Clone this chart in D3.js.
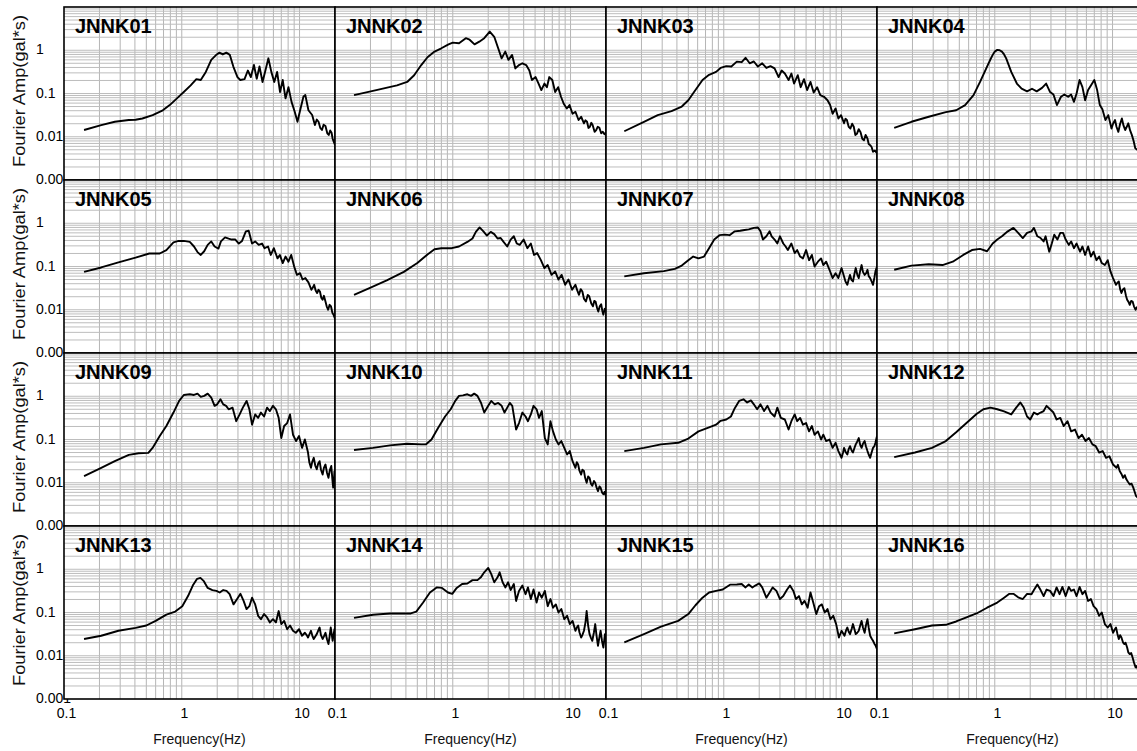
<!DOCTYPE html>
<html>
<head>
<meta charset="utf-8">
<script src="https://cdn.jsdelivr.net/npm/d3@7"></script>
<style>
  body { margin: 0; background: #fff; }
  svg { display: block; }
</style>
</head>
<body>
<svg id="chart" width="1137" height="751"></svg>
<script>
// Station names, one panel each (4 x 4 grid, row by row)
const stations = ["JNNK01","JNNK02","JNNK03","JNNK04","JNNK05","JNNK06","JNNK07","JNNK08",
                  "JNNK09","JNNK10","JNNK11","JNNK12","JNNK13","JNNK14","JNNK15","JNNK16"];

// Fourier amplitude spectra: [frequency (Hz), amplitude (gal*s)]
const JNNK01 = [[0.148,0.0143],[0.207,0.0186],[0.27,0.0222],[0.355,0.0244],[0.405,0.0248],[0.463,0.0264],[0.566,0.0316],[0.69,0.0408],[0.79,0.054],[0.91,0.077],[1.04,0.108],[1.19,0.154],[1.33,0.215],[1.45,0.205],[1.6,0.316],[1.78,0.6],[1.98,0.8],[2.09,0.88],[2.23,0.8],[2.39,0.88],[2.56,0.78],[2.74,0.42],[2.97,0.24],[3.14,0.205],[3.41,0.215],[3.64,0.34],[3.86,0.24],[4.1,0.455],[4.33,0.22],[4.57,0.42],[4.85,0.185],[5.13,0.34],[5.44,0.65],[5.76,0.316],[6.1,0.185],[6.45,0.316],[6.83,0.108],[7.2,0.205],[7.6,0.077],[8.05,0.14],[8.55,0.064],[9.1,0.0378],[9.6,0.0222],[10.2,0.045],[10.8,0.085],[11.2,0.092],[11.9,0.041],[12.8,0.0318],[13.5,0.0187],[14.0,0.025],[14.5,0.0222],[15.0,0.016],[15.5,0.0143],[16.0,0.019],[16.6,0.0177],[17.2,0.012],[17.7,0.011],[18.2,0.014],[18.7,0.0124],[19.1,0.009],[19.5,0.0077],[20,0.0065]];
const JNNK02 = [[0.145,0.092],[0.224,0.12],[0.336,0.154],[0.41,0.185],[0.47,0.265],[0.54,0.455],[0.61,0.69],[0.70,0.93],[0.80,1.11],[0.92,1.37],[1.0,1.5],[1.13,1.45],[1.29,1.9],[1.39,1.75],[1.53,1.37],[1.68,1.58],[1.85,1.9],[2.06,2.7],[2.25,2.05],[2.43,1.11],[2.6,0.65],[2.79,0.93],[2.97,0.6],[3.19,0.78],[3.4,0.38],[3.65,0.455],[3.9,0.5],[4.2,0.455],[4.47,0.34],[4.7,0.205],[5.05,0.24],[5.35,0.17],[5.65,0.12],[6.0,0.17],[6.3,0.14],[6.6,0.24],[7.0,0.205],[7.4,0.108],[7.85,0.14],[8.3,0.084],[8.75,0.058],[9.3,0.045],[9.8,0.054],[10.4,0.034],[11.0,0.0378],[11.7,0.0244],[12.3,0.029],[13.0,0.0205],[13.4,0.024],[13.8,0.0222],[14.2,0.016],[14.6,0.017],[15.0,0.021],[15.4,0.0186],[16.0,0.013],[16.5,0.0143],[17.0,0.017],[17.6,0.016],[18.2,0.012],[18.8,0.013],[19.4,0.0115],[20,0.0123]];
const JNNK03 = [[0.143,0.0134],[0.21,0.0222],[0.275,0.0316],[0.36,0.039],[0.44,0.05],[0.50,0.07],[0.575,0.12],[0.66,0.205],[0.75,0.27],[0.86,0.316],[0.94,0.39],[1.05,0.43],[1.16,0.42],[1.29,0.545],[1.42,0.53],[1.53,0.67],[1.66,0.5],[1.8,0.55],[1.95,0.42],[2.12,0.5],[2.3,0.39],[2.49,0.43],[2.7,0.38],[2.92,0.24],[3.1,0.34],[3.3,0.29],[3.55,0.205],[3.75,0.29],[3.95,0.17],[4.25,0.265],[4.5,0.14],[4.8,0.215],[5.1,0.12],[5.45,0.185],[5.8,0.105],[6.2,0.14],[6.6,0.092],[7.1,0.084],[7.6,0.07],[8.0,0.054],[8.4,0.034],[8.9,0.045],[9.4,0.0264],[9.9,0.0316],[10.5,0.0205],[10.8,0.026],[11.1,0.0244],[11.5,0.017],[11.9,0.0155],[12.3,0.02],[12.7,0.017],[13.1,0.011],[13.5,0.0117],[14.0,0.015],[14.5,0.0127],[15.0,0.009],[15.5,0.0083],[16.0,0.011],[16.6,0.0091],[17.0,0.0068],[17.5,0.0064],[18.0,0.0058],[18.5,0.0045],[19.2,0.0048],[20,0.0042]];
const JNNK04 = [[0.14,0.016],[0.196,0.0222],[0.275,0.029],[0.384,0.037],[0.47,0.041],[0.56,0.054],[0.66,0.092],[0.75,0.185],[0.86,0.42],[0.92,0.62],[0.96,0.78],[1.0,0.93],[1.05,1.02],[1.1,1.0],[1.15,0.93],[1.2,0.8],[1.25,0.65],[1.38,0.316],[1.54,0.17],[1.69,0.129],[1.88,0.112],[2.07,0.129],[2.27,0.112],[2.52,0.135],[2.73,0.17],[2.95,0.108],[3.15,0.095],[3.37,0.054],[3.65,0.084],[3.9,0.095],[4.2,0.084],[4.45,0.095],[4.7,0.064],[4.95,0.1],[5.25,0.205],[5.55,0.14],[5.85,0.07],[6.2,0.12],[6.55,0.154],[7.0,0.205],[7.4,0.12],[7.8,0.054],[8.2,0.043],[8.7,0.0244],[9.2,0.0316],[9.8,0.0155],[10.1,0.02],[10.5,0.0244],[10.8,0.017],[11.2,0.013],[11.6,0.02],[12.0,0.0264],[12.4,0.018],[12.8,0.0143],[13.2,0.017],[13.6,0.0205],[14.1,0.014],[14.6,0.0109],[15.1,0.008],[15.6,0.0054],[16.5,0.0048]];
const JNNK05 = [[0.148,0.075],[0.207,0.095],[0.29,0.125],[0.405,0.16],[0.53,0.2],[0.65,0.2],[0.74,0.24],[0.85,0.36],[0.94,0.39],[1.04,0.39],[1.17,0.37],[1.27,0.29],[1.36,0.215],[1.45,0.185],[1.55,0.225],[1.66,0.316],[1.78,0.38],[1.9,0.29],[2.05,0.26],[2.15,0.38],[2.33,0.47],[2.5,0.44],[2.65,0.42],[2.85,0.42],[3.05,0.34],[3.25,0.39],[3.5,0.65],[3.7,0.67],[3.95,0.34],[4.2,0.38],[4.5,0.316],[4.8,0.34],[5.05,0.265],[5.4,0.29],[5.7,0.185],[6.05,0.265],[6.5,0.154],[6.8,0.185],[7.2,0.12],[7.6,0.17],[8.05,0.129],[8.5,0.185],[9.0,0.1],[9.5,0.064],[10.1,0.07],[10.6,0.05],[11.2,0.054],[11.9,0.043],[12.6,0.029],[13.0,0.033],[13.3,0.0378],[13.7,0.028],[14.1,0.0244],[14.5,0.029],[14.9,0.0264],[15.3,0.019],[15.7,0.017],[16.1,0.021],[16.6,0.0155],[17.0,0.012],[17.5,0.01],[18.0,0.013],[18.5,0.0119],[19.0,0.0085],[19.5,0.0075],[20,0.0062]];
const JNNK06 = [[0.145,0.0222],[0.196,0.0316],[0.275,0.048],[0.384,0.075],[0.50,0.12],[0.61,0.19],[0.70,0.25],[0.80,0.265],[0.98,0.265],[1.13,0.29],[1.33,0.37],[1.47,0.445],[1.57,0.63],[1.69,0.8],[1.82,0.65],[1.95,0.52],[2.1,0.63],[2.25,0.56],[2.4,0.445],[2.55,0.455],[2.7,0.37],[2.9,0.29],[3.1,0.42],[3.3,0.5],[3.5,0.34],[3.7,0.316],[4.0,0.42],[4.3,0.265],[4.6,0.34],[4.9,0.185],[5.2,0.205],[5.6,0.14],[6.0,0.092],[6.4,0.108],[6.9,0.064],[7.4,0.077],[7.9,0.05],[8.4,0.064],[9.0,0.0378],[9.6,0.05],[10.3,0.029],[11.0,0.0378],[11.4,0.028],[11.8,0.0222],[12.2,0.03],[12.6,0.0264],[13.0,0.018],[13.5,0.0155],[14.0,0.022],[14.4,0.0205],[15.0,0.014],[15.5,0.012],[15.9,0.016],[16.3,0.0155],[16.8,0.011],[17.2,0.0091],[17.7,0.012],[18.2,0.0134],[18.6,0.0095],[19.0,0.0077],[19.5,0.0105],[20,0.01]];
const JNNK07 = [[0.143,0.059],[0.21,0.07],[0.31,0.078],[0.384,0.088],[0.44,0.105],[0.50,0.14],[0.55,0.17],[0.61,0.154],[0.68,0.17],[0.75,0.265],[0.83,0.42],[0.92,0.53],[1.02,0.545],[1.12,0.53],[1.24,0.65],[1.38,0.67],[1.5,0.7],[1.63,0.72],[1.8,0.78],[1.95,0.8],[2.05,0.65],[2.15,0.42],[2.3,0.5],[2.45,0.65],[2.55,0.5],[2.7,0.42],[2.85,0.34],[3.0,0.5],[3.2,0.34],[3.35,0.29],[3.5,0.24],[3.75,0.34],[4.0,0.205],[4.2,0.24],[4.45,0.17],[4.7,0.154],[5.0,0.24],[5.3,0.14],[5.6,0.185],[5.9,0.1],[6.3,0.129],[6.7,0.154],[7.0,0.108],[7.4,0.129],[7.9,0.084],[8.4,0.054],[8.9,0.07],[9.4,0.054],[10.0,0.092],[10.5,0.059],[10.8,0.045],[11.2,0.0378],[11.5,0.05],[11.8,0.064],[12.1,0.05],[12.5,0.045],[12.9,0.07],[13.2,0.092],[13.6,0.065],[14.0,0.054],[14.4,0.08],[14.8,0.108],[15.2,0.075],[15.7,0.064],[16.2,0.07],[16.6,0.084],[17.0,0.06],[17.5,0.054],[18.0,0.045],[18.5,0.0378],[19.0,0.055],[19.4,0.077],[20,0.1]];
const JNNK08 = [[0.14,0.084],[0.196,0.105],[0.275,0.113],[0.36,0.108],[0.44,0.129],[0.54,0.185],[0.64,0.24],[0.75,0.255],[0.86,0.225],[0.96,0.34],[1.05,0.42],[1.15,0.5],[1.29,0.65],[1.44,0.78],[1.58,0.6],[1.73,0.455],[1.88,0.6],[2.05,0.65],[2.15,0.78],[2.3,0.5],[2.45,0.455],[2.6,0.38],[2.7,0.5],[2.9,0.22],[3.05,0.34],[3.2,0.545],[3.4,0.42],[3.6,0.6],[3.8,0.6],[4.0,0.42],[4.25,0.316],[4.45,0.38],[4.7,0.265],[4.95,0.34],[5.3,0.22],[5.55,0.29],[5.85,0.185],[6.2,0.29],[6.55,0.17],[6.9,0.22],[7.3,0.14],[7.7,0.17],[8.1,0.12],[8.6,0.108],[9.1,0.14],[9.6,0.077],[10.1,0.054],[10.7,0.0378],[11.0,0.042],[11.3,0.045],[11.6,0.03],[11.9,0.0244],[12.2,0.029],[12.6,0.0316],[13.0,0.021],[13.3,0.017],[13.7,0.015],[14.0,0.013],[14.4,0.016],[14.8,0.0155],[15.2,0.012],[15.7,0.01],[16.1,0.0115],[16.5,0.0109]];
const JNNK09 = [[0.148,0.0143],[0.207,0.0222],[0.27,0.0316],[0.355,0.044],[0.43,0.048],[0.52,0.049],[0.565,0.064],[0.65,0.12],[0.74,0.205],[0.85,0.42],[0.95,0.78],[1.04,1.07],[1.17,1.11],[1.27,1.07],[1.36,1.15],[1.45,0.97],[1.55,1.02],[1.66,1.15],[1.78,0.93],[1.9,0.6],[2.0,0.65],[2.13,0.85],[2.25,0.65],[2.38,0.6],[2.5,0.5],[2.7,0.545],[2.9,0.265],[3.1,0.38],[3.3,0.545],[3.55,0.78],[3.75,0.5],[3.95,0.22],[4.2,0.38],[4.45,0.316],[4.7,0.42],[5.0,0.34],[5.3,0.545],[5.6,0.455],[5.95,0.6],[6.3,0.5],[6.65,0.316],[7.0,0.108],[7.4,0.205],[7.85,0.24],[8.3,0.38],[8.8,0.129],[9.35,0.092],[9.9,0.12],[10.5,0.064],[11.1,0.1],[11.8,0.05],[12.1,0.03],[12.5,0.0222],[12.8,0.03],[13.2,0.0378],[13.6,0.025],[14.0,0.0205],[14.4,0.028],[14.8,0.0316],[15.2,0.02],[15.7,0.0155],[16.1,0.022],[16.6,0.0264],[17.1,0.017],[17.6,0.013],[18.1,0.02],[18.6,0.0244],[19.0,0.012],[19.3,0.0077],[19.6,0.012],[19.8,0.0186],[20,0.0143]];
const JNNK10 = [[0.145,0.057],[0.21,0.064],[0.293,0.073],[0.41,0.08],[0.54,0.077],[0.59,0.077],[0.66,0.1],[0.75,0.185],[0.86,0.34],[0.96,0.5],[1.05,0.78],[1.13,1.02],[1.22,1.05],[1.33,1.11],[1.43,1.02],[1.52,1.15],[1.62,1.02],[1.74,0.7],[1.85,0.42],[2.0,0.6],[2.12,0.78],[2.27,0.65],[2.43,0.7],[2.6,0.6],[2.75,0.42],[2.9,0.545],[3.05,0.7],[3.2,0.6],[3.45,0.17],[3.65,0.24],[3.9,0.42],[4.15,0.34],[4.35,0.265],[4.6,0.38],[4.85,0.6],[5.15,0.5],[5.4,0.316],[5.7,0.455],[6.05,0.108],[6.4,0.077],[6.75,0.265],[7.1,0.154],[7.5,0.1],[7.9,0.077],[8.35,0.092],[8.85,0.064],[9.35,0.045],[9.85,0.054],[10.4,0.0316],[11.0,0.0222],[11.3,0.03],[11.6,0.0264],[11.9,0.019],[12.3,0.0155],[12.6,0.02],[13.0,0.0186],[13.3,0.013],[13.7,0.01],[14.1,0.014],[14.5,0.013],[14.9,0.0095],[15.3,0.0085],[15.8,0.011],[16.2,0.01],[16.7,0.0075],[17.1,0.0064],[17.6,0.0082],[18.0,0.0077],[18.5,0.006],[19.0,0.0054],[19.5,0.0062],[20,0.0048]];
const JNNK11 = [[0.143,0.054],[0.21,0.064],[0.293,0.077],[0.41,0.084],[0.50,0.105],[0.61,0.154],[0.75,0.19],[0.86,0.22],[0.94,0.27],[1.05,0.29],[1.15,0.34],[1.24,0.53],[1.35,0.78],[1.47,0.85],[1.58,0.72],[1.7,0.8],[1.8,0.65],[1.92,0.5],[2.05,0.65],[2.2,0.455],[2.35,0.6],[2.5,0.42],[2.7,0.34],[2.85,0.545],[3.05,0.316],[3.3,0.29],[3.55,0.17],[3.75,0.265],[4.0,0.38],[4.2,0.265],[4.45,0.316],[4.7,0.22],[5.0,0.24],[5.3,0.154],[5.6,0.205],[5.9,0.129],[6.3,0.154],[6.7,0.1],[7.0,0.129],[7.4,0.092],[7.9,0.1],[8.4,0.064],[8.9,0.084],[9.4,0.054],[10.0,0.0378],[10.3,0.05],[10.5,0.064],[10.9,0.05],[11.2,0.045],[11.5,0.06],[11.8,0.07],[12.2,0.055],[12.5,0.05],[12.9,0.065],[13.2,0.077],[13.6,0.09],[14.0,0.108],[14.4,0.075],[14.8,0.064],[15.2,0.08],[15.7,0.092],[16.1,0.07],[16.6,0.054],[17.0,0.045],[17.5,0.0378],[18.0,0.05],[18.5,0.064],[19.0,0.07],[19.4,0.084],[20,0.12]];
const JNNK12 = [[0.14,0.039],[0.21,0.05],[0.293,0.064],[0.384,0.092],[0.47,0.147],[0.575,0.24],[0.70,0.39],[0.80,0.5],[0.92,0.545],[1.05,0.5],[1.2,0.445],[1.38,0.38],[1.52,0.545],[1.65,0.72],[1.76,0.55],[1.88,0.34],[2.0,0.29],[2.15,0.42],[2.3,0.38],[2.45,0.42],[2.6,0.455],[2.75,0.6],[2.95,0.5],[3.15,0.42],[3.35,0.29],[3.6,0.316],[3.85,0.205],[4.15,0.265],[4.45,0.154],[4.8,0.17],[5.15,0.108],[5.5,0.129],[5.9,0.092],[6.3,0.108],[6.75,0.077],[7.2,0.07],[7.7,0.05],[8.25,0.054],[8.8,0.0378],[9.4,0.041],[10.1,0.0264],[10.8,0.0222],[11.1,0.026],[11.5,0.0186],[11.9,0.016],[12.3,0.013],[12.7,0.015],[13.1,0.012],[13.5,0.0105],[14.0,0.0091],[14.5,0.0095],[15.0,0.0077],[15.4,0.0062],[15.8,0.005],[16.5,0.0044]];
const JNNK13 = [[0.148,0.0244],[0.207,0.029],[0.29,0.0378],[0.405,0.044],[0.50,0.05],[0.60,0.064],[0.74,0.089],[0.88,0.105],[1.01,0.14],[1.13,0.24],[1.24,0.42],[1.35,0.6],[1.44,0.63],[1.54,0.53],[1.66,0.37],[1.82,0.33],[1.97,0.316],[2.1,0.29],[2.25,0.33],[2.4,0.316],[2.55,0.265],[2.75,0.154],[2.95,0.205],[3.15,0.27],[3.35,0.185],[3.55,0.12],[3.75,0.14],[3.95,0.22],[4.2,0.154],[4.45,0.084],[4.7,0.07],[5.0,0.092],[5.3,0.077],[5.6,0.059],[5.95,0.07],[6.3,0.059],[6.65,0.108],[7.0,0.054],[7.4,0.064],[7.85,0.041],[8.3,0.05],[8.8,0.0378],[9.3,0.034],[9.9,0.041],[10.5,0.029],[11.1,0.034],[11.5,0.03],[11.8,0.0264],[12.1,0.031],[12.5,0.0378],[12.9,0.028],[13.2,0.0244],[13.6,0.028],[14.0,0.0316],[14.4,0.038],[14.8,0.045],[15.2,0.03],[15.7,0.0244],[16.1,0.028],[16.6,0.034],[17.1,0.024],[17.6,0.0186],[18.0,0.028],[18.4,0.045],[18.8,0.03],[19.1,0.0222],[19.5,0.032],[19.8,0.041],[20,0.029]];
const JNNK14 = [[0.145,0.075],[0.21,0.089],[0.293,0.095],[0.44,0.095],[0.49,0.105],[0.56,0.17],[0.64,0.29],[0.73,0.38],[0.81,0.37],[0.91,0.29],[0.99,0.27],[1.08,0.37],[1.2,0.455],[1.33,0.47],[1.47,0.56],[1.62,0.56],[1.73,0.65],[1.85,0.85],[2.0,1.07],[2.12,0.78],[2.25,0.5],[2.4,0.65],[2.5,0.85],[2.65,0.5],[2.8,0.38],[2.95,0.5],[3.1,0.33],[3.3,0.455],[3.45,0.185],[3.65,0.316],[3.9,0.42],[4.15,0.265],[4.35,0.38],[4.6,0.205],[4.85,0.34],[5.15,0.17],[5.4,0.29],[5.7,0.22],[6.05,0.316],[6.4,0.14],[6.75,0.205],[7.1,0.129],[7.5,0.154],[7.9,0.1],[8.35,0.12],[8.85,0.07],[9.35,0.084],[9.85,0.054],[10.4,0.064],[11.0,0.0378],[11.3,0.045],[11.6,0.05],[11.9,0.035],[12.3,0.0264],[12.6,0.03],[13.0,0.0378],[13.4,0.06],[13.7,0.108],[14.1,0.05],[14.5,0.0316],[14.9,0.026],[15.3,0.0222],[15.8,0.035],[16.2,0.054],[16.6,0.03],[17.1,0.017],[17.5,0.025],[18.0,0.0378],[18.5,0.022],[19.0,0.0155],[19.3,0.022],[19.6,0.0316],[20,0.0244]];
const JNNK15 = [[0.143,0.0205],[0.21,0.0316],[0.293,0.047],[0.41,0.064],[0.50,0.092],[0.575,0.147],[0.66,0.22],[0.75,0.29],[0.86,0.316],[0.98,0.34],[1.13,0.44],[1.29,0.445],[1.42,0.455],[1.53,0.38],[1.63,0.445],[1.75,0.38],[1.85,0.42],[2.0,0.47],[2.12,0.38],[2.3,0.22],[2.45,0.29],[2.6,0.38],[2.8,0.316],[3.0,0.205],[3.2,0.24],[3.45,0.34],[3.65,0.42],[3.9,0.316],[4.1,0.205],[4.35,0.24],[4.6,0.154],[4.85,0.185],[5.15,0.129],[5.45,0.29],[5.75,0.17],[6.1,0.092],[6.45,0.14],[6.8,0.154],[7.2,0.1],[7.6,0.12],[8.05,0.07],[8.5,0.084],[9.0,0.054],[9.5,0.0264],[10.0,0.0378],[10.3,0.033],[10.6,0.029],[10.9,0.038],[11.2,0.045],[11.5,0.036],[11.8,0.0316],[12.2,0.042],[12.5,0.054],[12.9,0.04],[13.2,0.0316],[13.6,0.034],[14.0,0.0378],[14.4,0.05],[14.8,0.064],[15.2,0.045],[15.7,0.034],[16.1,0.05],[16.6,0.07],[17.0,0.045],[17.5,0.029],[18.0,0.025],[18.5,0.0222],[19.0,0.019],[19.5,0.017],[20,0.0143]];
const JNNK16 = [[0.14,0.033],[0.21,0.041],[0.293,0.05],[0.384,0.052],[0.47,0.062],[0.575,0.077],[0.70,0.095],[0.86,0.129],[1.05,0.17],[1.2,0.22],[1.33,0.27],[1.44,0.27],[1.58,0.225],[1.73,0.205],[1.88,0.27],[2.05,0.265],[2.15,0.33],[2.3,0.445],[2.45,0.33],[2.6,0.24],[2.75,0.34],[2.95,0.316],[3.15,0.24],[3.35,0.38],[3.55,0.265],[3.75,0.39],[4.0,0.24],[4.25,0.39],[4.45,0.316],[4.7,0.34],[4.95,0.24],[5.25,0.39],[5.55,0.265],[5.85,0.316],[6.2,0.185],[6.55,0.205],[6.9,0.14],[7.3,0.12],[7.7,0.084],[8.1,0.1],[8.6,0.054],[9.1,0.045],[9.6,0.054],[10.1,0.034],[10.4,0.04],[10.7,0.045],[11.0,0.032],[11.3,0.0244],[11.6,0.03],[11.9,0.0264],[12.3,0.02],[12.6,0.0186],[12.9,0.02],[13.3,0.0155],[13.6,0.012],[14.0,0.0109],[14.4,0.0115],[14.8,0.0091],[15.2,0.007],[15.7,0.0054],[16.1,0.0058],[16.5,0.0045]];

const spectra = [JNNK01, JNNK02, JNNK03, JNNK04, JNNK05, JNNK06, JNNK07, JNNK08,
                 JNNK09, JNNK10, JNNK11, JNNK12, JNNK13, JNNK14, JNNK15, JNNK16];

// Axis tick values and labels
const yTickValues = [1, 0.1, 0.01, 0.001];
const yTickLabels = ["1", "0.1", "0.01", "0.001"];
const xTickValues = [0.1, 1, 10];
const xTickLabels = ["0.1", "1", "10"];
const yTitle = "Fourier Amp(gal*s)";
const xTitle = "Frequency(Hz)";

// Layout
const svg = d3.select("#chart");
const FONT = "'Liberation Sans', Arial, Helvetica, sans-serif";
const left0 = 64, top0 = 7, pw = 271, ph = 173, nCols = 4, nRows = 4;

const x = d3.scaleLog().domain([0.1, 20]).range([0, pw]);
const y = d3.scaleLog().domain([0.001, 10]).range([ph, 0]);

svg.append("rect").attr("width", 1137).attr("height", 751).attr("fill", "#fff");

// Row-wise y tick labels and y titles (drawn first; panels sit on top)
for (let r = 0; r < nRows; r++) {
  const top = top0 + r * ph;
  const ax = d3.axisLeft(y)
    .tickValues(yTickValues)
    .tickFormat((d, i) => yTickLabels[i])
    .tickSize(0)
    .tickPadding(0);
  const g = svg.append("g")
    .attr("transform", `translate(${left0},${top})`)
    .call(ax);
  g.select(".domain").remove();
  g.attr("font-family", FONT).attr("font-size", 14);
  g.selectAll("text")
    .attr("text-anchor", "start")
    .attr("x", -28)
    .attr("dy", "0.25em")
    .attr("fill", "#000");

  svg.append("text")
    .attr("transform", `translate(25,${top + 84}) rotate(-90)`)
    .attr("text-anchor", "middle")
    .attr("font-family", FONT)
    .attr("font-size", 17)
    .attr("textLength", 152)
    .attr("lengthAdjust", "spacingAndGlyphs")
    .attr("fill", "#111")
    .text(yTitle);
}

const line = d3.line()
  .x(d => x(d[0]))
  .y(d => y(d[1]))
  .curve(d3.curveLinear);

const xGrid = x.ticks().filter(v => v > 0.1 && v < 20);
const yGrid = y.ticks().filter(v => v > 0.001 && v < 10);

stations.forEach((name, i) => {
  const c = i % nCols, r = Math.floor(i / nCols);
  const px = left0 + c * pw, py = top0 + r * ph;
  const g = svg.append("g").attr("transform", `translate(${px},${py})`);

  g.append("rect").attr("width", pw).attr("height", ph).attr("fill", "#fff");

  const clipId = "clip" + i;
  g.append("clipPath").attr("id", clipId)
    .append("rect").attr("width", pw).attr("height", ph);

  // log grid
  g.append("g").selectAll("line").data(xGrid).join("line")
    .attr("x1", d => x(d)).attr("x2", d => x(d))
    .attr("y1", 0).attr("y2", ph)
    .attr("stroke", "#b5b5b5").attr("stroke-width", 1);
  g.append("g").selectAll("line").data(yGrid).join("line")
    .attr("x1", 0).attr("x2", pw)
    .attr("y1", d => y(d)).attr("y2", d => y(d))
    .attr("stroke", "#bdbdbd").attr("stroke-width", 1);

  // spectrum
  g.append("path")
    .datum(spectra[i])
    .attr("clip-path", `url(#${clipId})`)
    .attr("fill", "none")
    .attr("stroke", "#000")
    .attr("stroke-width", 1.9)
    .attr("stroke-linejoin", "round")
    .attr("d", line);

  // station name
  g.append("text")
    .attr("x", 11).attr("y", 26)
    .attr("font-family", FONT)
    .attr("font-weight", "bold")
    .attr("font-size", 20)
    .attr("fill", "#000")
    .text(name);

  // frame
  g.append("rect").attr("width", pw).attr("height", ph)
    .attr("fill", "none").attr("stroke", "#000").attr("stroke-width", 1.6);

  // bottom row: frequency axis
  if (r === nRows - 1) {
    const ax = d3.axisBottom(x)
      .tickValues(xTickValues)
      .tickFormat((d, k) => xTickLabels[k])
      .tickSize(0)
      .tickPadding(0);
    const ga = g.append("g").attr("transform", `translate(0,${ph})`).call(ax);
    ga.select(".domain").remove();
    ga.attr("font-family", FONT).attr("font-size", 14);
    ga.selectAll("text")
      .attr("x", 2)
      .attr("y", 19)
      .attr("dy", 0)
      .attr("fill", "#000");

    g.append("text")
      .attr("x", pw / 2).attr("y", ph + 45)
      .attr("text-anchor", "middle")
      .attr("font-family", FONT)
      .attr("font-size", 14)
      .attr("fill", "#111")
      .text(xTitle);
  }
});
</script>
</body>
</html>
